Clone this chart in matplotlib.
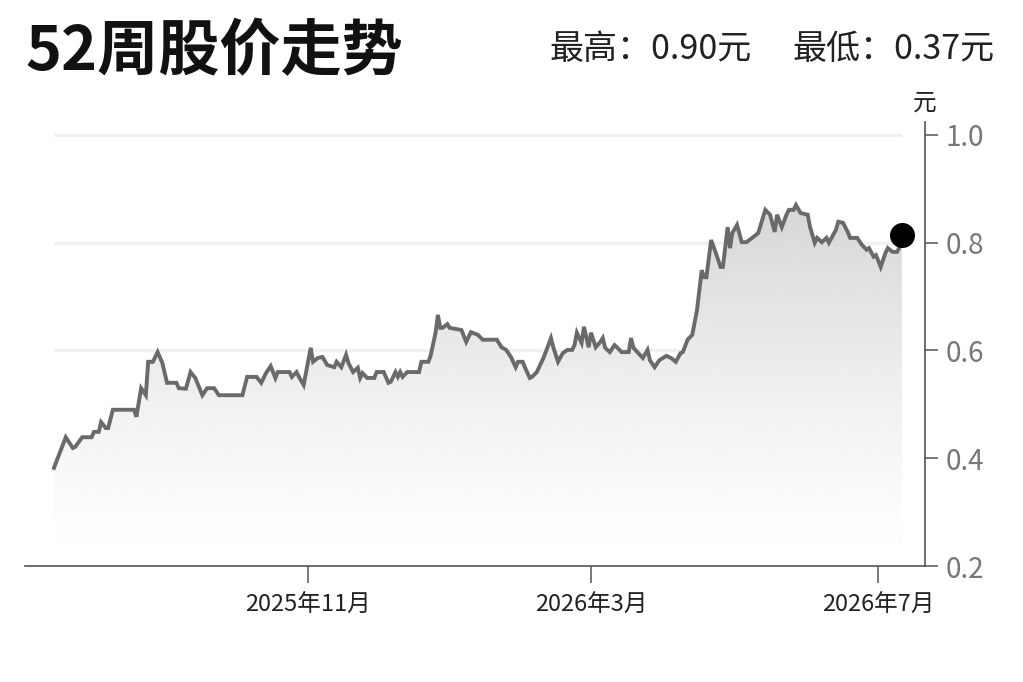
import numpy as np
import pandas as pd
import matplotlib
matplotlib.use("Agg")
import matplotlib.pyplot as plt
import matplotlib.dates as mdates
from matplotlib.patches import Polygon

plt.rcParams['font.family'] = ['Noto Sans CJK SC', 'DejaVu Sans']

# ---------------- data ----------------
title = "52周股价走势"
high_text = "最高：0.90元"
low_text = "最低：0.37元"
unit = "元"

dates = [
    "2025-07-16", "2025-07-21", "2025-07-24", "2025-07-25", "2025-07-28", "2025-08-01",
    "2025-08-02", "2025-08-04", "2025-08-05", "2025-08-07", "2025-08-08", "2025-08-10",
    "2025-08-19", "2025-08-20", "2025-08-22", "2025-08-24", "2025-08-25", "2025-08-27",
    "2025-08-29", "2025-08-31", "2025-09-02", "2025-09-06", "2025-09-07", "2025-09-10",
    "2025-09-12", "2025-09-14", "2025-09-17", "2025-09-19", "2025-09-22", "2025-09-24",
    "2025-10-04", "2025-10-06", "2025-10-10", "2025-10-12", "2025-10-14", "2025-10-16",
    "2025-10-18", "2025-10-19", "2025-10-24", "2025-10-25", "2025-10-27", "2025-10-28",
    "2025-10-30", "2025-11-02", "2025-11-03", "2025-11-05", "2025-11-07", "2025-11-09",
    "2025-11-12", "2025-11-13", "2025-11-15", "2025-11-17", "2025-11-18", "2025-11-20",
    "2025-11-22", "2025-11-23", "2025-11-24", "2025-11-26", "2025-11-29", "2025-11-30",
    "2025-12-03", "2025-12-05", "2025-12-06", "2025-12-08", "2025-12-09", "2025-12-10",
    "2025-12-11", "2025-12-13", "2025-12-18", "2025-12-19", "2025-12-22", "2025-12-23",
    "2025-12-25", "2025-12-26", "2025-12-27", "2025-12-28", "2025-12-30", "2025-12-31",
    "2026-01-05", "2026-01-07", "2026-01-09", "2026-01-12", "2026-01-14", "2026-01-15",
    "2026-01-20", "2026-01-22", "2026-01-24", "2026-01-26", "2026-01-28", "2026-01-29",
    "2026-01-31", "2026-02-01", "2026-02-03", "2026-02-04", "2026-02-06", "2026-02-09",
    "2026-02-12", "2026-02-13", "2026-02-15", "2026-02-17", "2026-02-19", "2026-02-21",
    "2026-02-22", "2026-02-23", "2026-02-25", "2026-02-26", "2026-02-28", "2026-03-01",
    "2026-03-03", "2026-03-05", "2026-03-06", "2026-03-07", "2026-03-09", "2026-03-11",
    "2026-03-12", "2026-03-14", "2026-03-17", "2026-03-18", "2026-03-19", "2026-03-23",
    "2026-03-25", "2026-03-26", "2026-03-28", "2026-03-30", "2026-04-02", "2026-04-04",
    "2026-04-06", "2026-04-08", "2026-04-09", "2026-04-11", "2026-04-13", "2026-04-15",
    "2026-04-17", "2026-04-18", "2026-04-19", "2026-04-21", "2026-04-23", "2026-04-25",
    "2026-04-26", "2026-04-28", "2026-04-29", "2026-04-30", "2026-05-02", "2026-05-04",
    "2026-05-06", "2026-05-09", "2026-05-11", "2026-05-14", "2026-05-16", "2026-05-18",
    "2026-05-19", "2026-05-21", "2026-05-23", "2026-05-24", "2026-05-26", "2026-05-27",
    "2026-05-29", "2026-06-01", "2026-06-02", "2026-06-04", "2026-06-05", "2026-06-07",
    "2026-06-09", "2026-06-10", "2026-06-13", "2026-06-14", "2026-06-16", "2026-06-18",
    "2026-06-19", "2026-06-22", "2026-06-24", "2026-06-26", "2026-06-27", "2026-06-29",
    "2026-06-30", "2026-07-02", "2026-07-04", "2026-07-05", "2026-07-07", "2026-07-09",
    "2026-07-10", "2026-07-11",
]

prices = [
    0.382, 0.439, 0.419, 0.421, 0.439, 0.439,
    0.449, 0.449, 0.467, 0.456, 0.456, 0.490,
    0.490, 0.477, 0.530, 0.517, 0.579, 0.579,
    0.597, 0.577, 0.540, 0.540, 0.530, 0.529,
    0.560, 0.549, 0.517, 0.530, 0.530, 0.517,
    0.517, 0.551, 0.551, 0.540, 0.558, 0.571,
    0.549, 0.560, 0.560, 0.551, 0.560, 0.551,
    0.536, 0.605, 0.579, 0.586, 0.588, 0.573,
    0.569, 0.579, 0.569, 0.592, 0.577, 0.560,
    0.568, 0.549, 0.558, 0.549, 0.549, 0.560,
    0.560, 0.540, 0.542, 0.560, 0.551, 0.560,
    0.551, 0.560, 0.560, 0.579, 0.579, 0.592,
    0.633, 0.666, 0.642, 0.642, 0.649, 0.642,
    0.638, 0.616, 0.634, 0.629, 0.620, 0.620,
    0.620, 0.606, 0.601, 0.588, 0.569, 0.579,
    0.579, 0.568, 0.549, 0.551, 0.560, 0.588,
    0.623, 0.606, 0.579, 0.595, 0.601, 0.601,
    0.610, 0.633, 0.614, 0.644, 0.606, 0.633,
    0.606, 0.616, 0.623, 0.605, 0.597, 0.610,
    0.606, 0.597, 0.597, 0.623, 0.605, 0.586,
    0.601, 0.582, 0.569, 0.582, 0.590, 0.586,
    0.579, 0.595, 0.597, 0.620, 0.629, 0.675,
    0.749, 0.736, 0.736, 0.805, 0.781, 0.755,
    0.755, 0.829, 0.790, 0.818, 0.833, 0.801,
    0.801, 0.811, 0.818, 0.861, 0.852, 0.820,
    0.852, 0.829, 0.852, 0.861, 0.861, 0.870,
    0.855, 0.852, 0.829, 0.800, 0.809, 0.801,
    0.809, 0.800, 0.824, 0.839, 0.837, 0.820,
    0.809, 0.809, 0.796, 0.787, 0.790, 0.774,
    0.777, 0.755, 0.781, 0.790, 0.783, 0.783,
    0.792, 0.815,
]

x_ticks = ["2025-11-01", "2026-03-01", "2026-07-01"]
x_tick_labels = ["2025年11月", "2026年3月", "2026年7月"]
y_ticks = [0.2, 0.4, 0.6, 0.8, 1.0]
grid_levels = [0.4, 0.6, 0.8, 1.0]

# ---------------- figure ----------------
W, H = 1023, 682
fig = plt.figure(figsize=(W / 100, H / 100), dpi=100)
fig.patch.set_facecolor("white")

ax_left, ax_right = 25 / W, 925 / W
ax_bottom = 1 - 566 / H
ax_top = 1 - 121.5 / H
ax = fig.add_axes([ax_left, ax_bottom, ax_right - ax_left, ax_top - ax_bottom])

d = pd.to_datetime(dates)
xn = mdates.date2num(d)
p = np.array(prices)

x_min = mdates.date2num(pd.Timestamp("2025-11-01") - pd.Timedelta(days=120.3))
x_max = mdates.date2num(pd.Timestamp("2025-11-01") + pd.Timedelta(days=261.8))
y_min, y_max = 0.2, 1.025
ax.set_xlim(x_min, x_max)
ax.set_ylim(y_min, y_max)

# gridlines across data range
ax.hlines(grid_levels, xn[0], xn[-1], colors="#f0f0f0", linewidth=2.4, zorder=0.5)

# gradient fill under line
yy = np.linspace(y_min, y_max, 400)
t = np.clip((yy - 0.2) / 0.7, 0, None)
gray = np.clip(1 - 0.17 * t ** 1.3, 0.80, 1.0)
grad = np.tile(gray[:, None], (1, 2))
im = ax.imshow(grad, extent=[xn[0], xn[-1], y_min, y_max], origin="lower",
               aspect="auto", cmap="gray", vmin=0, vmax=1, zorder=1,
               interpolation="bilinear")
verts = [(xn[0], y_min)] + list(zip(xn, p)) + [(xn[-1], y_min)]
poly = Polygon(verts, closed=True, facecolor="none", edgecolor="none",
               transform=ax.transData)
ax.add_patch(poly)
im.set_clip_path(poly)

# price line
ax.plot(xn, p, color="#6a6a6a", linewidth=2.8, solid_joinstyle="miter", zorder=3)
ax.plot(xn[-1], p[-1], "o", color="black", markersize=17, zorder=4)

ax.set_xlim(x_min, x_max)
ax.set_ylim(y_min, y_max)

# spines
for s in ["top", "left"]:
    ax.spines[s].set_visible(False)
for s in ["bottom", "right"]:
    ax.spines[s].set_color("#555555")
    ax.spines[s].set_linewidth(1.2)

ax.yaxis.tick_right()
ax.set_yticks(y_ticks)
ax.set_yticklabels([f"{v:.1f}" for v in y_ticks])
ax.tick_params(axis="y", direction="out", length=9.5, width=1.1, color="#555555",
               labelsize=20, labelcolor="#777777", pad=5)

ax.set_xticks(mdates.date2num(pd.to_datetime(x_ticks)))
ax.set_xticklabels(x_tick_labels)
ax.tick_params(axis="x", direction="out", length=12, width=1.1, color="#555555",
               labelsize=17, labelcolor="#222222", pad=8)

ax.set_facecolor("white")

# texts
fig.text(25 / W, 1 - 52 / H, title, fontsize=44, fontweight="bold",
         color="#111111", ha="left", va="center")
fig.text(995 / W, 1 - 50 / H, low_text, fontsize=24.5, color="#222222",
         ha="right", va="center")
fig.text(752 / W, 1 - 50 / H, high_text, fontsize=24.5, color="#222222",
         ha="right", va="center")
fig.text(925 / W, 1 - 103 / H, unit, fontsize=17, color="#222222",
         ha="center", va="center")

fig.savefig("out.png", dpi=100, facecolor="white")
